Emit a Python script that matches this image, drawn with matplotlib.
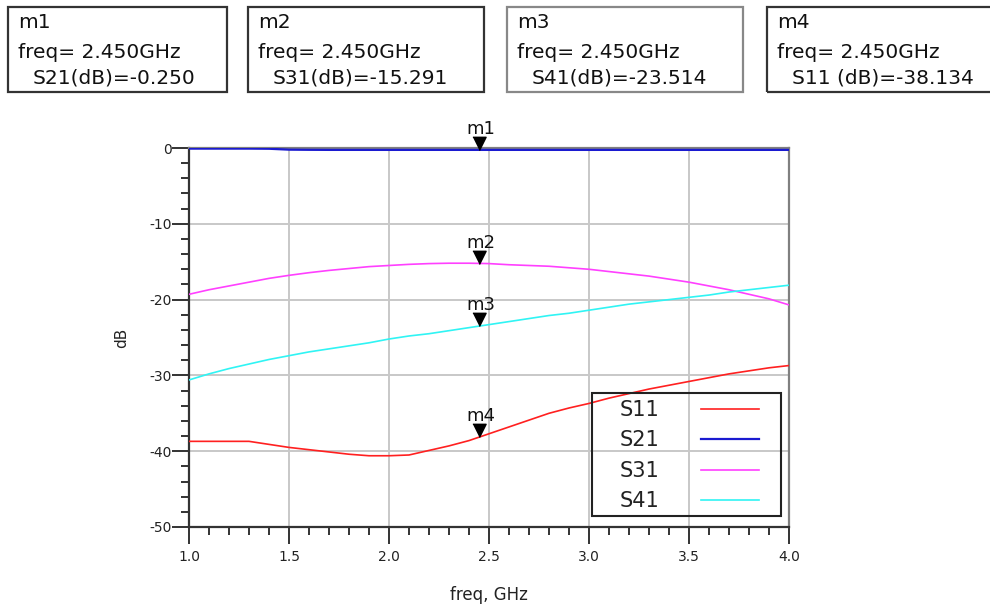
import matplotlib
matplotlib.use("Agg")
import matplotlib.pyplot as plt
from matplotlib.patches import Rectangle
import numpy as np

plt.rcParams['axes.unicode_minus'] = False

# frequency grid (GHz) and S-parameters (dB)
freq = [1.0, 1.1, 1.2, 1.3, 1.4, 1.5, 1.6, 1.7, 1.8, 1.9,
        2.0, 2.1, 2.2, 2.3, 2.4, 2.5, 2.6, 2.7, 2.8, 2.9,
        3.0, 3.1, 3.2, 3.3, 3.4, 3.5, 3.6, 3.7, 3.8, 3.9, 4.0]
s11 = [-38.7, -38.7, -38.7, -38.7, -39.1, -39.5, -39.8, -40.1, -40.4, -40.6,
       -40.6, -40.5, -39.9, -39.3, -38.6, -37.7, -36.8, -35.9, -35.0, -34.3,
       -33.7, -33.0, -32.4, -31.8, -31.3, -30.8, -30.3, -29.8, -29.4, -29.0, -28.7]
s21 = [-0.08, -0.08, -0.08, -0.08, -0.1, -0.22, -0.24, -0.25, -0.25, -0.25,
       -0.25, -0.25, -0.25, -0.25, -0.25, -0.25, -0.25, -0.25, -0.25, -0.25,
       -0.25, -0.25, -0.25, -0.25, -0.25, -0.25, -0.25, -0.25, -0.25, -0.25, -0.25]
s31 = [-19.3, -18.7, -18.2, -17.7, -17.2, -16.8, -16.45, -16.15, -15.9, -15.65,
       -15.5, -15.35, -15.25, -15.2, -15.2, -15.25, -15.4, -15.5, -15.6, -15.8,
       -16.0, -16.3, -16.6, -16.9, -17.3, -17.7, -18.2, -18.7, -19.3, -19.9, -20.7]
s41 = [-30.6, -29.8, -29.1, -28.5, -27.9, -27.4, -26.9, -26.5, -26.1, -25.7,
       -25.2, -24.8, -24.5, -24.1, -23.7, -23.3, -22.9, -22.5, -22.1, -21.8,
       -21.4, -21.0, -20.6, -20.3, -20.0, -19.7, -19.4, -19.0, -18.7, -18.4, -18.1]

trace_names = ["S11", "S21", "S31", "S41"]
trace_colors = ["#ff2020", "#1a1ad0", "#ff40ff", "#30f4f4"]

# markers
marker_names = ["m1", "m2", "m3", "m4"]
marker_freq = 2.45
marker_vals = [-0.250, -15.291, -23.514, -38.134]
marker_labels = ["S21(dB)=-0.250", "S31(dB)=-15.291", "S41(dB)=-23.514", "S11 (dB)=-38.134"]

W, H = 990, 604
fig = plt.figure(figsize=(W / 100, H / 100), dpi=100)
ax = fig.add_axes([189 / W, 1 - 527 / H, 600 / W, 379 / H])

for name, data, col in zip(trace_names, [s11, s21, s31, s41], trace_colors):
    lw = 1.6 if name == "S21" else 1.2
    ax.plot(freq, data, color=col, lw=lw, label=name, zorder=3)

ax.set_xlim(1.0, 4.0)
ax.set_ylim(-50, 0)
ax.set_xticks(np.arange(1.0, 4.01, 0.5))
ax.set_xticks(np.arange(1.0, 4.01, 0.1), minor=True)
ax.set_yticks(np.arange(-50, 1, 10))
ax.set_yticks(np.arange(-50, 1, 2), minor=True)
ax.xaxis.set_major_formatter(matplotlib.ticker.FormatStrFormatter('%.1f'))
ax.grid(which='major', color='#c8c8c8', lw=1.4, zorder=0)
ax.set_axisbelow(True)

ax.tick_params(which='major', direction='out', length=12.5, width=1.4, color='#333333',
               labelsize=10, labelcolor='#222222')
ax.tick_params(axis='y', which='major', pad=0)
ax.tick_params(axis='x', which='major', pad=4)
ax.tick_params(which='minor', direction='out', length=6, width=1.4, color='#333333')

ax.spines['left'].set_color('#333333')
ax.spines['bottom'].set_color('#333333')
ax.spines['right'].set_color('#808080')
ax.spines['top'].set_color('#808080')
for s in ax.spines.values():
    s.set_linewidth(1.6)

ax.set_ylabel('dB', fontsize=11, color='#222222')
ax.yaxis.set_label_coords(-0.1, 0.5)
ax.set_xlabel('freq, GHz', fontsize=12, color='#222222')
ax.xaxis.set_label_coords(0.5, -0.155)

# marker triangles (tip on the trace) with name above
tri = [(-0.5, 1.0), (0.5, 1.0), (0.0, 0.0)]
for name, val in zip(marker_names, marker_vals):
    ax.plot(marker_freq, val, marker=tri, markersize=19, color='black', zorder=5, clip_on=False)
    ax.annotate(name, (marker_freq, val), xytext=(1, 11.5), textcoords='offset points',
                ha='center', va='baseline', fontsize=13, color='#111111',
                annotation_clip=False)

# legend: labels left, line samples right, with its own frame
leg = ax.legend(loc='upper left', bbox_to_anchor=(0.718, 0.335), borderaxespad=0,
                markerfirst=False, frameon=False, fontsize=15,
                handlelength=2.75, handletextpad=2.0, labelspacing=0.5,
                borderpad=0)
for t in leg.get_texts():
    t.set_color('#222222')
ax.add_patch(Rectangle((0.672, 0.029), 0.315, 0.325, transform=ax.transAxes,
                       fill=False, edgecolor='#222222', lw=1.5, zorder=6))

# marker readout boxes at the top
box_left = [8, 248, 507, 767]
box_width = [219, 236, 236, 240]
box_edge = ['#333333', '#333333', '#888888', '#333333']
for i in range(4):
    x0 = box_left[i]
    fig.patches.append(Rectangle((x0 / W, 1 - 92 / H), box_width[i] / W, 85 / H,
                                 transform=fig.transFigure, fill=False,
                                 edgecolor=box_edge[i], lw=1.6, clip_on=False))
    fig.text((x0 + 10) / W, 1 - 22 / H, marker_names[i], fontsize=14.5,
             va='center', ha='left', color='#111111')
    fig.text((x0 + 10) / W, 1 - 52 / H, 'freq= %.3fGHz' % marker_freq, fontsize=14.5,
             va='center', ha='left', color='#111111')
    fig.text((x0 + 25) / W, 1 - 78 / H, marker_labels[i], fontsize=14.5,
             va='center', ha='left', color='#111111')

fig.savefig('out.png', dpi=100)
